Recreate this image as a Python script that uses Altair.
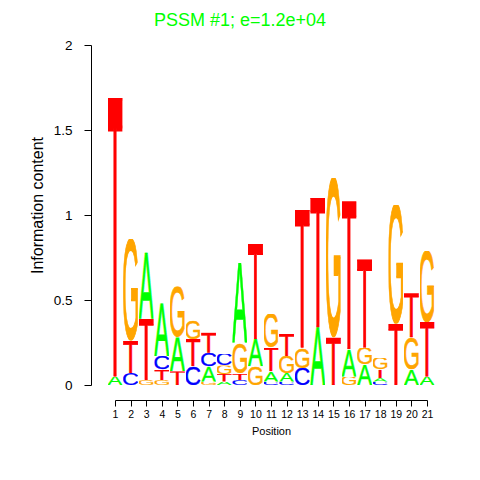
import base64
import altair as alt
import pandas as pd

# ---- data (bottom-to-top stacking per position) ----
positions = list(range(1, 22))
letters_by_pos = [
    ["A", "T"],
    ["C", "T", "G"],
    ["G", "T", "A"],
    ["G", "T", "C", "A"],
    ["T", "A", "G"],
    ["C", "T", "G"],
    ["G", "A", "C", "T"],
    ["A", "T", "G", "C"],
    ["C", "T", "G", "A"],
    ["G", "A", "T"],
    ["C", "A", "T", "G"],
    ["C", "A", "G", "T"],
    ["C", "G", "T"],
    ["A", "T"],
    ["T", "G"],
    ["G", "A", "T"],
    ["A", "G", "T"],
    ["C", "A", "T", "G"],
    ["T", "G"],
    ["A", "G", "T"],
    ["A", "T", "G"],
]
heights_by_pos = [
    [0.05, 1.64],
    [0.07, 0.19, 0.60],
    [0.03, 0.36, 0.39],
    [0.03, 0.06, 0.08, 0.31],
    [0.08, 0.20, 0.30],
    [0.11, 0.16, 0.11],
    [0.02, 0.09, 0.08, 0.12],
    [0.02, 0.045, 0.05, 0.07],
    [0.03, 0.04, 0.18, 0.47],
    [0.11, 0.16, 0.56],
    [0.02, 0.06, 0.14, 0.20],
    [0.02, 0.05, 0.10, 0.13],
    [0.10, 0.12, 0.81],
    [0.34, 0.76],
    [0.28, 0.94],
    [0.05, 0.16, 0.87],
    [0.12, 0.10, 0.52],
    [0.02, 0.02, 0.05, 0.07],
    [0.36, 0.70],
    [0.09, 0.19, 0.26],
    [0.05, 0.32, 0.42],
]
y_ticks = [0, 0.5, 1, 1.5, 2]
title_text = "PSSM #1; e=1.2e+04"

# ---- styling ----
letter_colors = {"A": "#00FF00", "C": "#0000FF", "G": "#FFA500", "T": "#FF0000"}
# glyph ink boxes (font-size 100, Liberation Sans): x0, x1, ytop, ybottom
glyph_box = {
    "A": (-0.15, 66.85, -68.8, 0.0),
    "C": (4.9, 68.3, -70.2, 1.4),
    "G": (5.3, 72.2, -70.2, 1.4),
    "T": (2.4, 58.6, -68.8, 0.0),
}
HALF = 0.48


def letter_uri(ch):
    x0, x1, yt, yb = glyph_box[ch]
    svg = (
        '<svg xmlns="http://www.w3.org/2000/svg" width="100" height="100" '
        f'viewBox="{x0} {yt} {x1 - x0} {yb - yt}" preserveAspectRatio="none">'
        f'<text x="0" y="0" font-family="Liberation Sans, Arial, sans-serif" '
        f'font-size="100" fill="{letter_colors[ch]}" stroke="{letter_colors[ch]}" '
        f'stroke-width="1.5">{ch}</text></svg>'
    )
    return "data:image/svg+xml;base64," + base64.b64encode(svg.encode()).decode()


uris = {ch: letter_uri(ch) for ch in letter_colors}

rows = []
for pos, lets, hts in zip(positions, letters_by_pos, heights_by_pos):
    base = 0.0
    for ch, h in zip(lets, hts):
        rows.append(
            dict(pos=pos, letter=ch, x0=pos - HALF, x1=pos + HALF,
                 y0=base, y1=base + h, url=uris[ch])
        )
        base += h
df = pd.DataFrame(rows)

FONT = "Liberation Sans"

x_scale = alt.Scale(domain=[1, 21], nice=False, zero=False)
y_scale = alt.Scale(domain=[0, 2], nice=False, zero=False)

logo = (
    alt.Chart(df)
    .mark_image(aspect=False)
    .encode(
        x=alt.X(
            "x0:Q",
            scale=x_scale,
            axis=alt.Axis(
                title="Position",
                values=positions,
                format="d",
                grid=False,
                labelFlush=False,
                labelOverlap=False,
                labelFont=FONT,
                labelFontSize=10.5,
                labelColor="black",
                labelPadding=3,
                tickSize=6,
                tickColor="black",
                domainColor="black",
                offset=15,
                titleFont=FONT,
                titleFontSize=11,
                titleFontWeight="normal",
                titleColor="black",
                titleBaseline="alphabetic",
                titleY=34,
            ),
        ),
        x2="x1:Q",
        y=alt.Y(
            "y0:Q",
            scale=y_scale,
            axis=alt.Axis(
                title="Information content",
                values=y_ticks,
                format="~g",
                grid=False,
                labelFont=FONT,
                labelFontSize=13.5,
                labelColor="black",
                labelPadding=12,
                tickSize=7,
                tickColor="black",
                domainColor="black",
                offset=24,
                titleFont=FONT,
                titleFontSize=16,
                titleFontWeight="normal",
                titleColor="black",
                titleBaseline="middle",
                titleX=-54,
                titleY=160,
            ),
        ),
        y2="y1:Q",
        url="url:N",
    )
)

title_layer = (
    alt.Chart(pd.DataFrame({"t": [title_text]}))
    .mark_text(
        font=FONT,
        fontSize=18,
        color="#00FF00",
        align="center",
        baseline="alphabetic",
    )
    .encode(text="t:N", x=alt.value(125), y=alt.value(-19))
)

chart = (
    alt.layer(logo, title_layer)
    .properties(
        width=312,
        height=340,
        padding={"left": 107, "top": 37, "right": 45, "bottom": 80},
        autosize=alt.AutoSizeParams(type="none"),
    )
    .configure(background="white", view=alt.ViewConfig(stroke=None))
)

chart.save("out.html", embed_options={"renderer": "svg", "actions": False})
